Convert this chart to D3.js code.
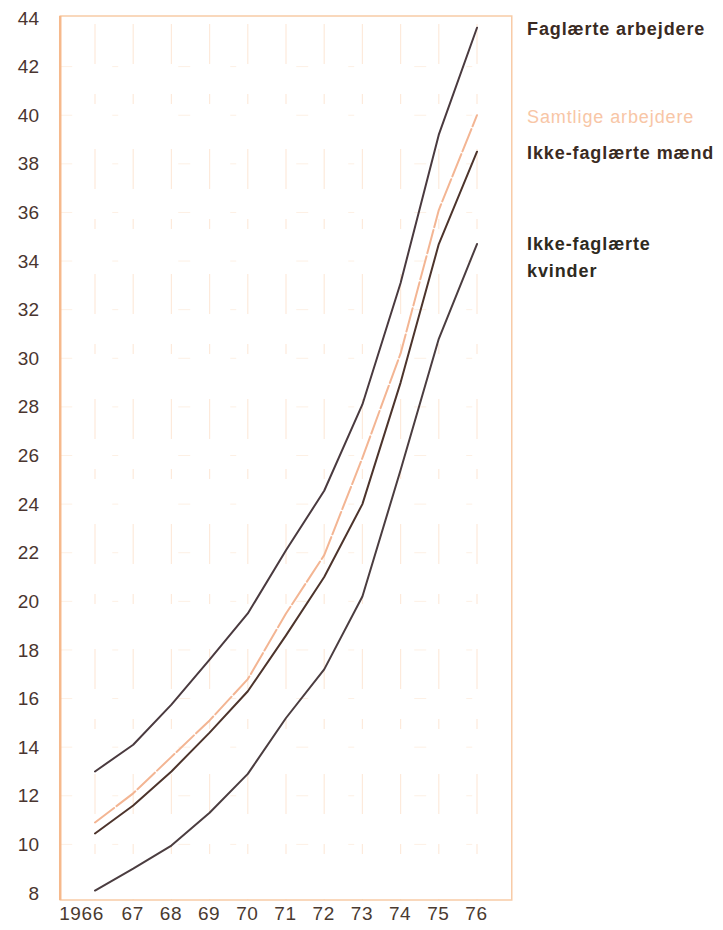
<!DOCTYPE html>
<html><head><meta charset="utf-8">
<script src="https://cdn.jsdelivr.net/npm/d3@7"></script>
<style>
body{margin:0;background:#fff;}
svg{display:block;font-family:"Liberation Sans",Arial,Helvetica,sans-serif;}
</style></head>
<body>
<svg id="c" width="723" height="930"></svg>
<script>
const years = [1966,1967,1968,1969,1970,1971,1972,1973,1974,1975,1976];
const yearLabels = ["1966","67","68","69","70","71","72","73","74","75","76"];
const yTicks = [8,10,12,14,16,18,20,22,24,26,28,30,32,34,36,38,40,42,44];
const faglaerte   = [13.0,14.1,15.75,17.6,19.5,22.1,24.55,28.1,33.1,39.2,43.6];
const samtlige    = [10.9,12.1,13.6,15.1,16.8,19.5,21.9,25.9,30.2,36.1,40.0];
const maend       = [10.45,11.6,13.0,14.6,16.3,18.6,21.0,24.0,29.0,34.7,38.5];
const kvinder     = [8.1,9.0,9.95,11.3,12.9,15.2,17.2,20.2,25.4,30.8,34.7];
const seriesNames = ["Faglærte arbejdere","Samtlige arbejdere","Ikke-faglærte mænd","Ikke-faglærte kvinder"];

(function(){
const svg = d3.select("#c");
const x = d3.scaleLinear().domain([1966,1976]).range([95,477]);
const y = d3.scaleLinear().domain([8,44]).range([893,18]);

const fLeft = x(1965.09), fRight = x(1976.91), fTop = y(44)-2, fBottom = y(8)+7;

// faint gridlines
svg.append("g").selectAll("line").data(years).join("line")
  .attr("x1",d=>x(d)).attr("x2",d=>x(d))
  .attr("y1",fTop+8).attr("y2",fBottom)
  .attr("stroke","#fdeadb").attr("stroke-width",1.2)
  .attr("stroke-dasharray","40,30,10,45");
svg.append("g").selectAll("line").data(yTicks.slice(1,-1)).join("line")
  .attr("x1",fLeft).attr("x2",fRight)
  .attr("y1",d=>y(d)).attr("y2",d=>y(d))
  .attr("stroke","#fdf0e4").attr("stroke-width",1)
  .attr("stroke-dasharray","12,40,6,60");

// frame
svg.append("rect").attr("x",fLeft).attr("y",fTop).attr("width",fRight-fLeft).attr("height",fBottom-fTop)
  .attr("fill","none").attr("stroke","#f8cba6").attr("stroke-width",1.5);
svg.append("line").attr("x1",fLeft).attr("x2",fLeft).attr("y1",fTop).attr("y2",fBottom)
  .attr("stroke","#f6b98c").attr("stroke-width",2.5);

// y axis labels
const yAxis = d3.axisLeft(y).tickValues(yTicks).tickSize(0).tickPadding(0);
const gy = svg.append("g").attr("transform",`translate(${39},0)`).call(yAxis);
gy.select(".domain").remove();
gy.selectAll("text").attr("font-size",19).attr("fill","#4a3530")
  .attr("font-family","Liberation Sans, Arial, sans-serif");

// x axis labels
const xAxis = d3.axisBottom(x).tickValues(years).tickSize(0).tickPadding(0)
  .tickFormat((d,i)=>yearLabels[i]);
const gx = svg.append("g").attr("transform",`translate(0,${906})`).call(xAxis);
gx.select(".domain").remove();
gx.selectAll("text").attr("font-size",19).attr("fill","#4a3a30")
  .attr("letter-spacing",0.6)
  .attr("font-family","Liberation Sans, Arial, sans-serif")
  .attr("dx",(d,i)=>i===0?-14:-1);

// lines
const line = d3.line().x((d,i)=>x(years[i])).y(d=>y(d));
const series = [
  {v:faglaerte, c:"#4a3a3f", dash:null},
  {v:samtlige,  c:"#f3b593", dash:"24,3"},
  {v:maend,     c:"#4d342c", dash:null},
  {v:kvinder,   c:"#4b3d40", dash:null}
];
svg.append("g").selectAll("path").data(series).join("path")
  .attr("d",d=>line(d.v)).attr("fill","none")
  .attr("stroke",d=>d.c).attr("stroke-width",2)
  .attr("stroke-linejoin","round").attr("stroke-linecap","round")
  .attr("stroke-dasharray",d=>d.dash);

// right labels
const lab = svg.append("g").attr("font-size",18).attr("font-weight","bold").attr("letter-spacing",0.9);
lab.append("text").attr("x",527).attr("y",35).attr("fill","#3a2a22").text(seriesNames[0]);
lab.append("text").attr("x",527).attr("y",123).attr("fill","#f8c6a6").attr("font-weight","normal").text(seriesNames[1]);
lab.append("text").attr("x",527).attr("y",159).attr("fill","#3a2a22").text(seriesNames[2]);
const t4 = lab.append("text").attr("x",527).attr("y",250).attr("fill","#2e2a1e");
t4.append("tspan").attr("x",527).text("Ikke-faglærte");
t4.append("tspan").attr("x",527).attr("dy",27).text("kvinder");
})();
</script>
</body></html>
